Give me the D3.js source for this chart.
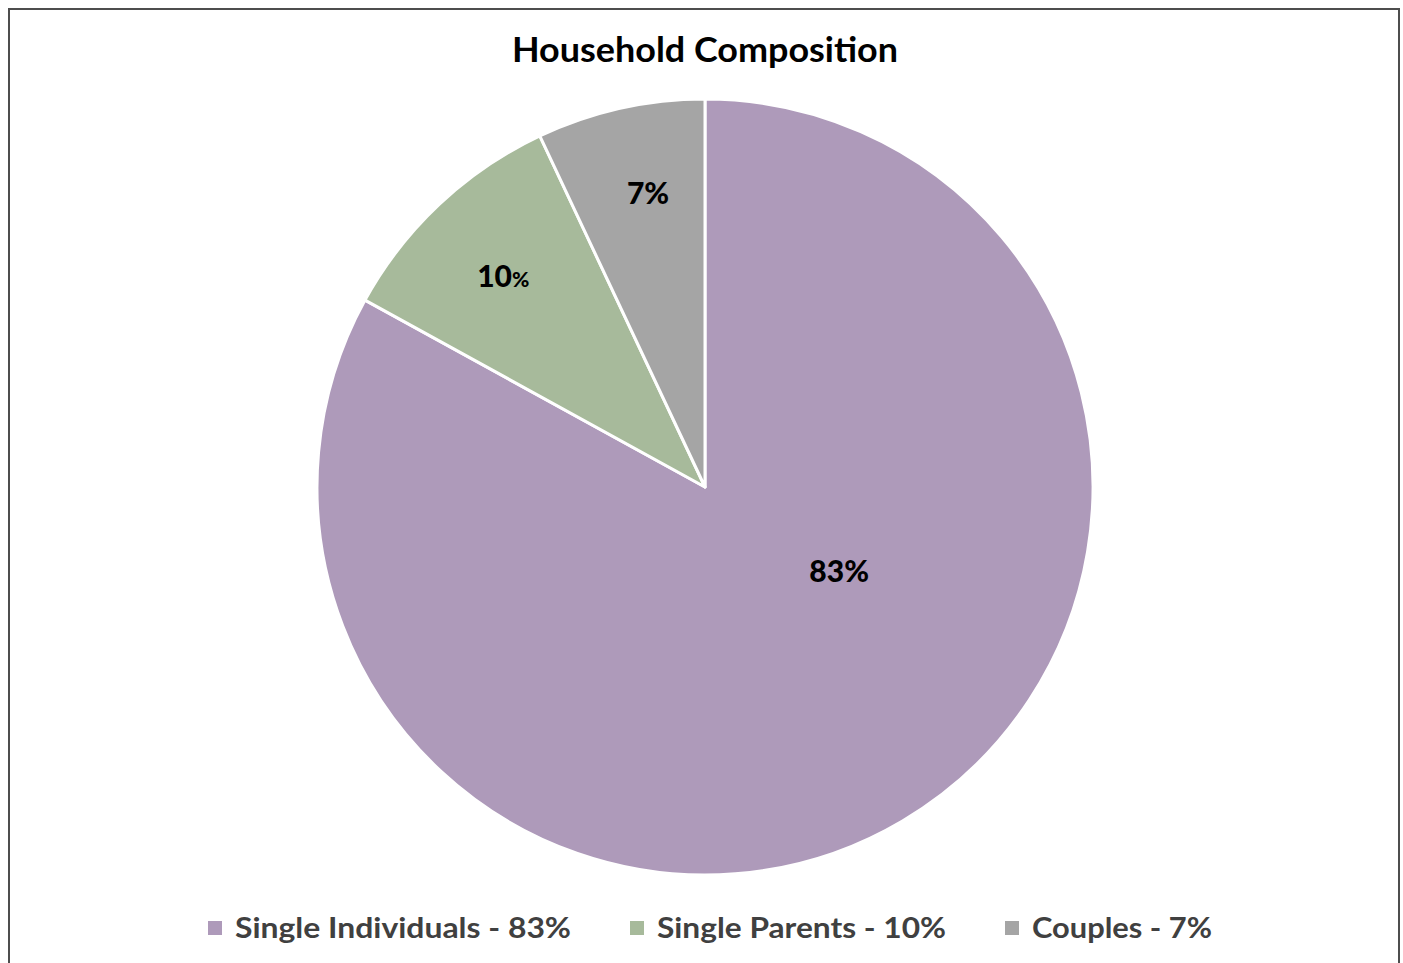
<!DOCTYPE html>
<html><head><meta charset="utf-8">
<script src="https://cdn.jsdelivr.net/npm/d3@7"></script>
<style>html,body{margin:0;padding:0;background:#fff;}svg{display:block;}</style>
</head><body>
<svg id="c" width="1403" height="963"></svg>
<script>
const categories = ["Single Individuals", "Single Parents", "Couples"];
const values = [83, 10, 7];
const colors = ["#AE9ABA", "#A7BA9B", "#A5A5A5"];
const legendLabels = ["Single Individuals - 83%", "Single Parents - 10%", "Couples - 7%"];
const sliceLabels = ["83", "10", "7"];
// label placement: radius fraction and angle (degrees clockwise from top)
const labelRadiusFrac = [0.41, 0.75, 0.77];
const labelAngleDeg = [122.5, 316.1, 349];

const W = 1403, H = 963;
const svg = d3.select("#c");
svg.append("rect").attr("x", 9).attr("y", 9).attr("width", 1390).attr("height", 970)
  .attr("fill", "#fff").attr("stroke", "#4d4d4d").attr("stroke-width", 2);

svg.append("text").attr("x", 705).attr("y", 62).attr("text-anchor", "middle")
  .attr("font-family", "Lato, 'Open Sans', sans-serif").attr("font-weight", "bold")
  .attr("font-size", 34).attr("fill", "#000")
  .attr("textLength", 386).attr("lengthAdjust", "spacingAndGlyphs")
  .text("Household Composition");

const cx = 705, cy = 487, r = 388;
const pie = d3.pie().sort(null).value(d => d)(values);
const arc = d3.arc().innerRadius(0).outerRadius(r);
const g = svg.append("g").attr("transform", `translate(${cx},${cy})`);
g.selectAll("path").data(pie).join("path")
  .attr("d", arc).attr("fill", (d, i) => colors[i])
  .attr("stroke", "#fff").attr("stroke-width", 3).attr("stroke-linejoin", "round");

pie.forEach((d, i) => {
  const a = labelAngleDeg[i] * Math.PI / 180;
  const rr = r * labelRadiusFrac[i];
  const x = rr * Math.sin(a), y = -rr * Math.cos(a);
  const t = g.append("text").attr("x", x).attr("y", y + 10).attr("text-anchor", "middle")
    .attr("font-family", "Lato, 'Open Sans', sans-serif").attr("font-weight", "900")
    .attr("font-size", 30).attr("fill", "#000");
  if (i === 1) {
    t.append("tspan").text(sliceLabels[i]);
    t.append("tspan").attr("font-size", 21).text("%");
  } else {
    t.text(sliceLabels[i] + "%");
  }
});

// legend
const legX = [208, 630, 1005];
const legTextW = [336, 289, 180];
const leg = svg.append("g");
legendLabels.forEach((lab, i) => {
  leg.append("rect").attr("x", legX[i]).attr("y", 921).attr("width", 14).attr("height", 14)
    .attr("fill", colors[i]);
  leg.append("text").attr("x", legX[i] + 27).attr("y", 938)
    .attr("font-family", "Lato, 'Open Sans', sans-serif").attr("font-weight", "bold")
    .attr("font-size", 28).attr("fill", "#404040")
    .attr("textLength", legTextW[i]).attr("lengthAdjust", "spacingAndGlyphs")
    .text(lab);
});
</script>
</body></html>
